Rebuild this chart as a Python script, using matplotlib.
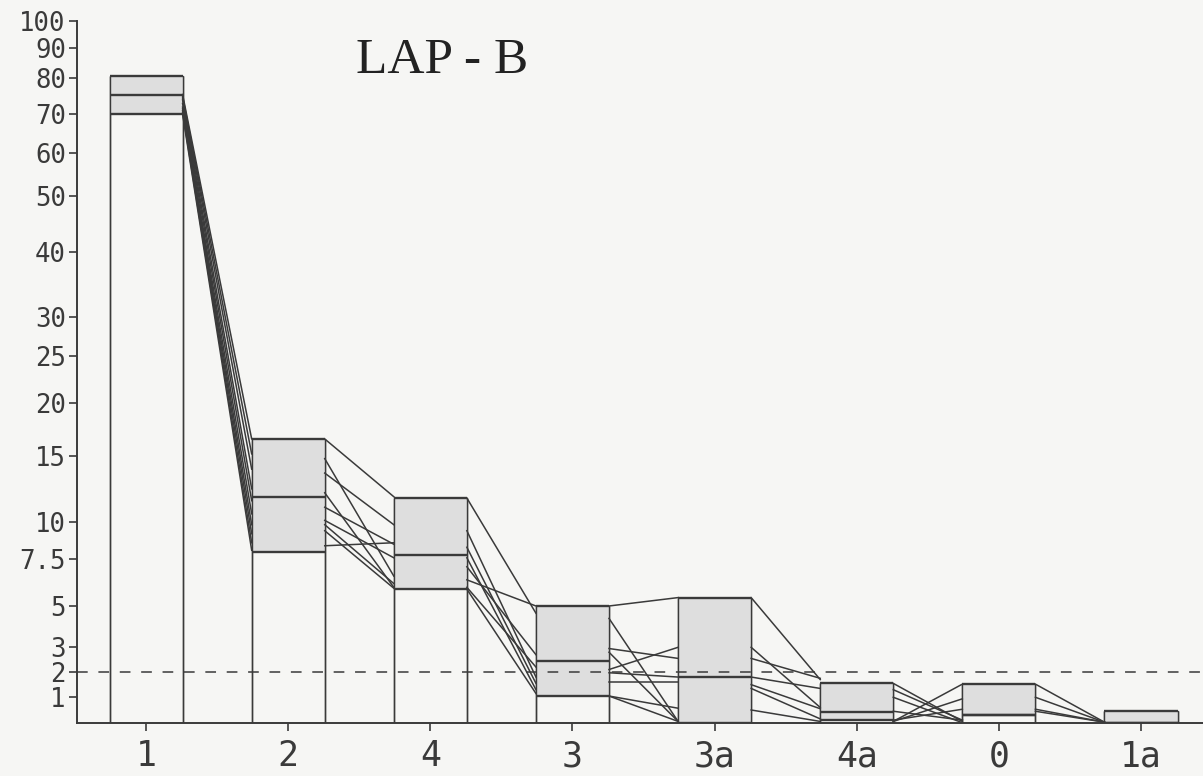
import numpy as np
import matplotlib
matplotlib.use("Agg")
import matplotlib.pyplot as plt

# box summaries per category (lower quartile, median, upper quartile)
cats = ["1", "2", "4", "3", "3a", "4a", "0", "1a"]
q1 = [70.0, 8.0, 5.9, 1.04, 0.0, 0.1, 0.29, 0.0]
med = [75.4, 11.9, 7.8, 2.45, 1.79, 0.42, 0.29, 0.0]
q3 = [80.8, 16.6, 11.8, 5.0, 5.45, 1.55, 1.52, 0.46]

# individual samples between neighbouring categories: (left value, right value)
gap_1_2 = [(75.5, 16.6), (75, 15.2), (74.5, 14.0), (74, 12.5), (73, 11.6),
           (72, 10.6), (71.5, 9.8), (71, 9.2), (70.5, 8.6), (70, 8.1)]
gap_2_4 = [(16.6, 11.9), (14.8, 6.6), (13.7, 9.8), (12.2, 6.0), (11.1, 8.5),
           (10.1, 7.6), (9.8, 6.2), (9.4, 5.95), (8.4, 8.6)]
gap_4_3 = [(11.8, 4.65), (9.4, 1.8), (8.3, 1.55), (7.1, 2.7), (6.4, 5.0),
           (6.0, 2.2), (5.9, 1.15), (7.6, 1.3)]
gap_3_3a = [(5.0, 5.45), (4.4, 0.05), (2.95, 2.55), (2.8, 0.05), (2.1, 3.0),
            (1.97, 1.8), (1.62, 1.62), (1.05, 0.57), (1.05, 0.05)]
gap_3a_4a = [(5.45, 1.7), (3.0, 0.6), (2.55, 1.75), (1.8, 1.35), (1.5, 0.55),
             (1.35, 0.15), (0.5, 0.05)]
gap_4a_0 = [(1.55, 0.05), (1.3, 0.1), (1.0, 0.0), (0.45, 0.1), (0.05, 1.52),
            (0.05, 0.94), (0.1, 0.53)]
gap_0_1a = [(1.52, 0.02), (1.0, 0.02), (0.53, 0.02), (0.45, 0.02)]
gaps = [gap_1_2, gap_2_4, gap_4_3, gap_3_3a, gap_3a_4a, gap_4a_0, gap_0_1a]

ref_level = 2.0
ytick_vals = [1, 2, 3, 5, 7.5, 10, 15, 20, 25, 30, 40, 50, 60, 70, 80, 90, 100]
ytick_labels = ["1", "2", "3", "5", "7.5", "10", "15", "20", "25", "30", "40",
                "50", "60", "70", "80", "90", "100"]

# the original axis is stretched at low values; piecewise map value -> height
scale_vals = [0, 1, 2, 3, 5, 7.5, 10, 15, 20, 25, 30, 40, 50, 60, 70, 80, 90, 100]
scale_pos = [0, 25.4, 50.7, 75.4, 116.7, 163.4, 201, 266.7, 320, 367, 405.4,
             471, 526.7, 570, 608.4, 644.4, 675, 702]


def fwd(v):
    return np.interp(v, scale_vals, scale_pos)


def inv(p):
    return np.interp(p, scale_pos, scale_vals)


bg = "#f6f6f4"
ink = "#3a3a3a"
shade = "#dedede"
hw = 0.257

fig = plt.figure(figsize=(12.03, 7.76), dpi=100, facecolor=bg)
ax = fig.add_axes([0.064, 0.0687, 0.936, 0.9046], facecolor=bg)
ax.set_yscale("function", functions=(fwd, inv))

x = np.arange(len(cats))
ax.bar(x, q3, width=2 * hw, color=bg, edgecolor=ink, linewidth=1.0, zorder=2)
ax.bar(x, np.array(q3) - np.array(q1), bottom=q1, width=2 * hw, color=shade,
       edgecolor="none", zorder=2)
for arr in (q1, med, q3):
    ax.hlines(arr, x - hw, x + hw, color=ink, lw=1.7, zorder=3)
ax.vlines(np.r_[x - hw, x + hw], 0, np.r_[q3, q3], color=ink, lw=1.0, zorder=3)

for i, segs in enumerate(gaps):
    for a, b in segs:
        ax.plot([i + hw, i + 1 - hw], [a, b], color=ink, lw=1.1, zorder=4)

ax.axhline(ref_level, color=ink, lw=1.1, ls=(0, (7, 7)), zorder=5)

ax.set_xlim(-0.486, 7.436)
ax.set_ylim(0, 100)
ax.set_xticks(x)
ax.set_xticklabels(cats)
ax.set_yticks(ytick_vals)
ax.set_yticklabels(ytick_labels)
ax.yaxis.set_minor_locator(matplotlib.ticker.NullLocator())
for s in ("top", "right"):
    ax.spines[s].set_visible(False)
for s in ("left", "bottom"):
    ax.spines[s].set_color(ink)
    ax.spines[s].set_linewidth(1.4)
ax.tick_params(axis="y", direction="out", length=6, width=1.2, pad=2,
               labelsize=18.5, colors=ink)
ax.tick_params(axis="x", direction="out", length=6, width=1.2, pad=6,
               labelsize=25, colors=ink)
for lab in ax.get_xticklabels() + ax.get_yticklabels():
    lab.set_family("DejaVu Sans Mono")

fig.text(442 / 1203, 1 - 61 / 776, "LAP - B", ha="center", va="center",
         family="Liberation Serif", fontsize=37, color="#222222")

fig.savefig("out.png", dpi=100, facecolor=bg)
